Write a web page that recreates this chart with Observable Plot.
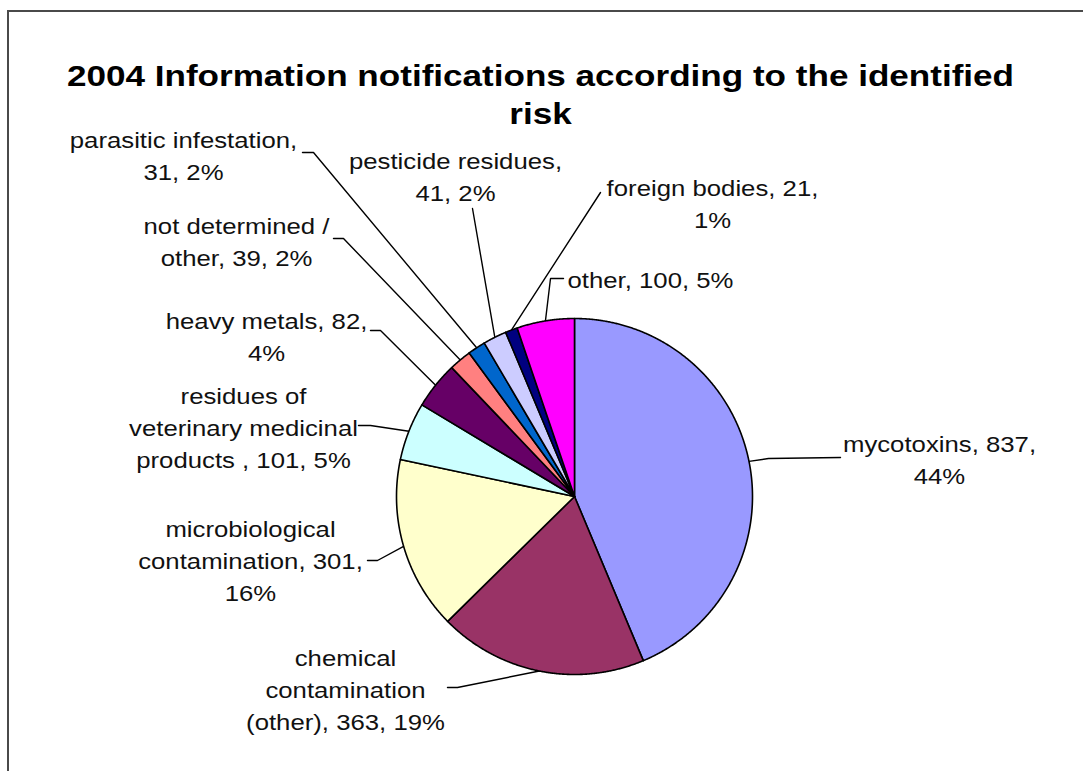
<!DOCTYPE html>
<html>
<head>
<meta charset="utf-8">
<script src="https://cdn.jsdelivr.net/npm/d3@7"></script>
<script src="https://cdn.jsdelivr.net/npm/@observablehq/plot@0.6"></script>
<style>
  html, body { margin: 0; padding: 0; background: #fff; overflow: hidden; }
  #wrap { position: relative; width: 1083px; height: 771px; overflow: hidden; }
  #fl { position: absolute; left: 7px; top: 10px; width: 2px; height: 800px; background: #4a4a4a; }
  #ft { position: absolute; left: 7px; top: 10px; width: 1100px; height: 2px; background: #4a4a4a; }
  #chart { position: absolute; left: 0; top: 0; }
</style>
</head>
<body>
<div id="wrap"><div id="fl"></div><div id="ft"></div><div id="chart"></div></div>
<script>
// ---- data ----
const categories = ["mycotoxins", "chemical contamination (other)", "microbiological contamination",
  "residues of veterinary medicinal products ", "heavy metals", "not determined / other",
  "parasitic infestation", "pesticide residues", "foreign bodies", "other"];
const values = [837, 363, 301, 101, 82, 39, 31, 41, 21, 100];
const colors = ["#9999FF", "#993366", "#FFFFCC", "#CCFFFF", "#660066", "#FF8080",
  "#0066CC", "#CCCCFF", "#000080", "#FF00FF"];
const labelLines = [
  ["mycotoxins, 837,", "44%"],
  ["chemical", "contamination", "(other), 363, 19%"],
  ["microbiological", "contamination, 301,", "16%"],
  ["residues of", "veterinary medicinal", "products , 101, 5%"],
  ["heavy metals, 82,", "4%"],
  ["not determined /", "other, 39, 2%"],
  ["parasitic infestation,", "31, 2%"],
  ["pesticide residues,", "41, 2%"],
  ["foreign bodies, 21,", "1%"],
  ["other, 100, 5%"]
];
const titleLines = ["2004 Information notifications according to the identified", "risk"];

// ---- layout (pixel space) ----
const W = 1083, H = 771;
const cx = 574, cy = 496, R = 178;
const textStretch = 1.17; // horizontal stretch of the reference's text
// label block centres and leader-line start points
const labelX = [939, 345, 250, 243, 266, 236, 183, 455, 712, 650];
const labelY = [457, 687, 558, 425, 334, 239, 153, 174, 201, 277];
const leadX  = [840, 447, 367, 358, 370, 333, 302, 472, 600, 563];
const leadY  = [457, 687, 560, 425, 330, 238, 152, 208, 192, 278];
const stubX  = [768, 457, 377, 370, 380, 343, 313, 472, 600, 550];
const stubY  = [458, 687, 560, 425, 330, 238, 152, 208, 192, 278];

// ---- geometry from data ----
const pie = d3.pie().sort(null).value(d => d)(values);
const slicePts = [];
pie.forEach((a, i) => {
  slicePts.push({k: i, px: cx, py: cy, c: colors[i]});
  const n = Math.max(2, Math.ceil((a.endAngle - a.startAngle) / 0.005));
  for (let j = 0; j <= n; j++) {
    const t = a.startAngle + (a.endAngle - a.startAngle) * j / n;
    slicePts.push({k: i, px: cx + R * Math.sin(t), py: cy - R * Math.cos(t), c: colors[i]});
  }
  slicePts.push({k: i, px: cx, py: cy, c: colors[i]});
});
const leaderPts = [];
pie.forEach((a, i) => {
  const m = (a.startAngle + a.endAngle) / 2;
  leaderPts.push({k: i, px: leadX[i], py: leadY[i]});
  leaderPts.push({k: i, px: stubX[i], py: stubY[i]});
  leaderPts.push({k: i, px: cx + R * Math.sin(m), py: cy - R * Math.cos(m)});
});
const labels = labelLines.map((l, i) => ({px: labelX[i], py: labelY[i], t: l.join("\n")}));
const title = [{px: 540, py: 92, t: titleLines.join("\n")}];

const chart = Plot.plot({
  width: W, height: H,
  margin: 0,
  x: {type: "linear", domain: [0, W], range: [0, W], axis: null},
  y: {type: "linear", domain: [0, H], range: [0, H], axis: null},
  color: {type: "identity"},
  style: {background: "transparent", fontFamily: "'Liberation Sans', Arial, sans-serif"},
  marks: [
    Plot.line(leaderPts, {x: "px", y: "py", z: "k", stroke: "#000", strokeWidth: 1.4,
      strokeLinejoin: "miter", curve: "linear"}),
    Plot.line(slicePts, {x: "px", y: "py", z: "k", fill: "c", stroke: "#000", strokeWidth: 1.6,
      strokeLinejoin: "round", curve: "linear"}),
    Plot.text(labels, {x: "px", y: "py", text: "t", fontSize: 22, lineHeight: 1.45,
      fill: "#111"}),
    Plot.text(title, {x: "px", y: "py", text: "t", fontSize: 30, lineHeight: 1.27, fontWeight: "bold",
      fill: "#000"})
  ]
});
// stretch every text horizontally about its own anchor
d3.select(chart).selectAll("text").each(function () {
  const tr = this.getAttribute("transform") || "";
  const x = +this.getAttribute("x") || 0;
  const y = +this.getAttribute("y") || 0;
  this.setAttribute("transform",
    `${tr} translate(${x},${y}) scale(${textStretch},1) translate(${-x},${-y})`);
});
document.getElementById("chart").appendChild(chart);
</script>
</body>
</html>
